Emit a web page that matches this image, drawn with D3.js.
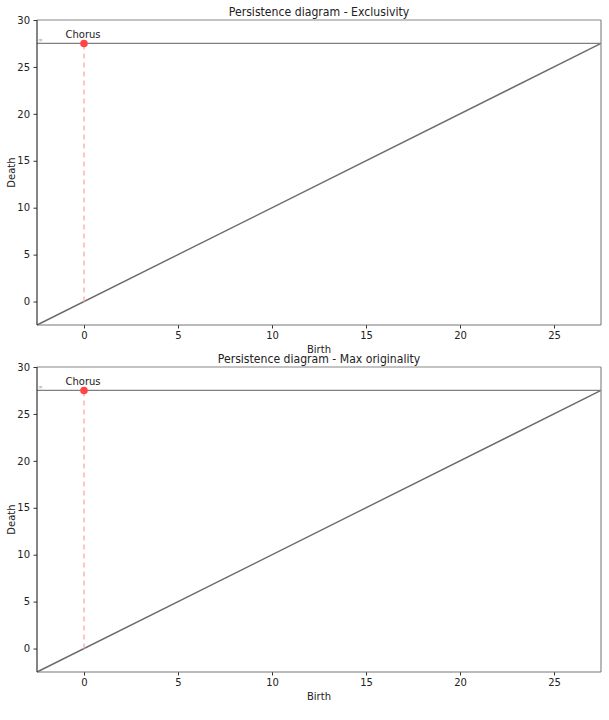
<!DOCTYPE html>
<html>
<head>
<meta charset="utf-8">
<script src="https://cdn.jsdelivr.net/npm/d3@7"></script>
<style>
  body { margin: 0; background: #fff; }
  text { font-family: "DejaVu Sans", sans-serif; fill: #222; }
</style>
</head>
<body>
<div id="chart"></div>
<script>
// data
var titles = ["Persistence diagram - Exclusivity", "Persistence diagram - Max originality"];
var pointLabels = ["Chorus"];
var births = [0];
var deaths = [Infinity];
var xTicks = [0, 5, 10, 15, 20, 25];
var yTicks = [0, 5, 10, 15, 20, 25, 30];
var infValue = 27.5;

var W = 609, H = 720;
var margin = {left: 37, right: 8};
var panelTops = [20, 367], panelH = 305;
var width = W - margin.left - margin.right;

var svg = d3.select("#chart").append("svg")
    .attr("width", W)
    .attr("height", H);

var x = d3.scaleLinear().domain([-2.5, 27.5]).range([0, width]);
var y = d3.scaleLinear().domain([-2.5, 30]).range([panelH, 0]);

titles.forEach(function(title, i) {
    var g = svg.append("g")
        .attr("transform", "translate(" + margin.left + "," + panelTops[i] + ")");

    //title (glyphs in the picture are a bit narrow, squeeze to match)
    g.append("text")
        .attr("x", width / 2).attr("y", -4)
        .attr("text-anchor", "middle")
        .style("font-size", "12.3px")
        .attr("textLength", title.length * 5.47)
        .attr("lengthAdjust", "spacingAndGlyphs")
        .text(title);

    //diagonal
    g.append("line")
        .attr("x1", x(-2.5)).attr("y1", y(-2.5))
        .attr("x2", x(27.5)).attr("y2", y(27.5))
        .attr("stroke", "#6b6b6b").attr("stroke-width", 1.4);

    //infinity line
    g.append("line")
        .attr("x1", 0).attr("x2", width)
        .attr("y1", y(infValue)).attr("y2", y(infValue))
        .attr("stroke", "#808080").attr("stroke-width", 1.2);
    g.append("text")
        .attr("x", 1).attr("y", y(infValue) - 1.5)
        .style("font-size", "6px").style("fill", "#999")
        .text("\u221e");

    births.forEach(function(b, j) {
        var d = isFinite(deaths[j]) ? deaths[j] : infValue;
        g.append("line")
            .attr("x1", x(b)).attr("x2", x(b))
            .attr("y1", y(b)).attr("y2", y(d))
            .attr("stroke", "#ffb3b3").attr("stroke-width", 1.5)
            .attr("stroke-dasharray", "5,4");
        g.append("circle")
            .attr("cx", x(b)).attr("cy", y(d)).attr("r", 3.8)
            .attr("fill", "#ff4545");
        g.append("text")
            .attr("x", x(b) - 1).attr("y", y(d) - 5)
            .attr("text-anchor", "middle")
            .style("font-size", "10px")
            .text(pointLabels[j]);
    });

    //X axis
    var xa = g.append("g")
        .attr("transform", "translate(0," + panelH + ")")
        .call(d3.axisBottom(x).tickValues(xTicks).tickSize(3.5).tickPadding(3.5));
    //Y axis
    var ya = g.append("g")
        .call(d3.axisLeft(y).tickValues(yTicks).tickSize(3.5).tickPadding(3.5));
    [xa, ya].forEach(function(a) {
        a.select(".domain").remove();
        a.selectAll("line").attr("stroke", "#333");
        a.selectAll("text").style("font-size", "10px").style("font-family", "DejaVu Sans").attr("fill", "#222");
    });

    //frame
    g.append("line").attr("x1", 0).attr("x2", width).attr("y1", 0).attr("y2", 0)
        .attr("stroke", "#888").attr("stroke-width", 1.2);
    g.append("line").attr("x1", width).attr("x2", width).attr("y1", 0).attr("y2", panelH)
        .attr("stroke", "#888").attr("stroke-width", 1.2);
    g.append("line").attr("x1", 0).attr("x2", width).attr("y1", panelH).attr("y2", panelH)
        .attr("stroke", "#777").attr("stroke-width", 1.2);
    g.append("line").attr("x1", 0).attr("x2", 0).attr("y1", 0).attr("y2", panelH)
        .attr("stroke", "#333").attr("stroke-width", 1.2);

    //axis labels
    g.append("text")
        .attr("x", width / 2).attr("y", panelH + 28)
        .attr("text-anchor", "middle")
        .style("font-size", "10px")
        .text("Birth");
    g.append("text")
        .attr("transform", "translate(" + (-22) + "," + (panelH / 2) + ") rotate(-90)")
        .attr("text-anchor", "middle")
        .style("font-size", "10px")
        .text("Death");
});

// top of a cut-off glyph at the very bottom edge
svg.append("text")
    .attr("x", 412).attr("y", 732)
    .attr("text-anchor", "middle")
    .style("font-size", "16px").style("fill", "#444")
    .text("O");
</script>
</body>
</html>
